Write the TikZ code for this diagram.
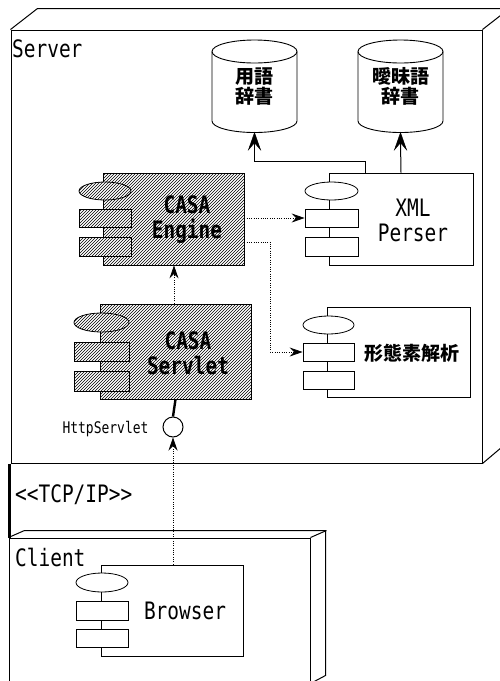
\documentclass[tikz,border=0pt]{standalone}
\usepackage{fontspec}
\usetikzlibrary{arrows.meta,patterns,shapes.geometric,calc}
\newfontfamily\lab[FakeStretch=0.81]{DejaVu Sans Mono}
\newfontfamily\jp{Noto Sans CJK JP}
\begin{document}
\begin{tikzpicture}[x=1pt,y=-1pt,
  compbox/.style={draw, line width=0.8pt, inner sep=0pt, fill=white},
  hcompbox/.style={draw, line width=0.8pt, inner sep=0pt, preaction={fill=white}, pattern=north east lines},
  cpart/.style={draw, line width=0.8pt, inner sep=0pt, fill=white, minimum width=52pt, minimum height=18pt},
  hcpart/.style={draw, line width=0.8pt, inner sep=0pt, preaction={fill=white}, pattern=north east lines, minimum width=52pt, minimum height=18pt},
  big/.style={font=\lab\fontsize{24}{25}\selectfont, align=center, inner sep=0pt},
  bigb/.style={font=\lab\bfseries\fontsize{24}{25}\selectfont, align=center, inner sep=0pt},
  small/.style={font=\lab\fontsize{16}{18}\selectfont, inner sep=0pt},
  jpt/.style={font=\jp\bfseries\fontsize{19}{20}\selectfont, align=center, inner sep=0pt},
  cyl/.style={draw, line width=0.9pt},
  frame/.style={draw, line width=1pt},
  sline/.style={line width=1pt},
  dotline/.style={line width=0.8pt, dash pattern=on 1pt off 1.3pt},
  darr/.style={dotline, -{Stealth[length=13pt,width=9pt,inset=4.5pt]}},
  uphead/.style={fill=black, draw=black, line width=0.5pt, line join=miter}
]
\useasboundingbox (0,0) rectangle (500,681);
\clip (0,0) rectangle (500,681);
\fill[white] (0,0) rectangle (500,681);

% ---------- Server node ----------
\node[frame, minimum width=471pt, minimum height=433pt, inner sep=0pt] (server) at (246.5,246.5) {};
\draw[frame] (server.north west) -- ++(27,-21) -- ++(471,0) -- ++(0,433) -- (server.south east);
\draw[frame] (server.north east) -- ++(27,-21);
\node[big, anchor=west] (serverlab) at (12,49) {Server};

% ---------- Client node ----------
\node[frame, minimum width=301pt, minimum height=145pt, inner sep=0pt] (client) at (159.5,610.5) {};
\draw[frame] (client.north west) -- ++(16,-7) -- ++(301,0) -- ++(0,145) -- (client.south east);
\draw[frame] (client.north east) -- ++(16,-7);
\node[big, anchor=west] (clientlab) at (15,557.5) {Client};

% TCP/IP link
\draw[line width=3pt] ([xshift=-1pt]server.south west) -- ([xshift=1pt]client.north west);
\node[big, anchor=west] (tcp) at (15,495) {<\kern0pt<TCP/IP>\kern0pt>};

% ---------- Databases ----------
\draw[cyl] (212,51.5) -- (212,121) arc[start angle=180, end angle=360, x radius=42.5pt, y radius=11.5pt] -- (297,51.5);
\draw[cyl] (254.5,51.5) ellipse[x radius=42.5pt, y radius=11.5pt];
\node[jpt, minimum width=85pt, minimum height=92.5pt] (db1) at (254.5,86.25) {用語\\辞書};

\draw[cyl] (358,51.5) -- (358,121) arc[start angle=180, end angle=360, x radius=42.5pt, y radius=11.5pt] -- (443,51.5);
\draw[cyl] (400.5,51.5) ellipse[x radius=42.5pt, y radius=11.5pt];
\node[jpt, minimum width=85pt, minimum height=92.5pt] (db2) at (400.5,86.25) {曖昧語\\辞書};

% ---------- CASA Engine ----------
\node[hcompbox, minimum width=141pt, minimum height=92pt] (eng) at (173.5,219) {};
\node[hcpart, ellipse] (eng-e) at (105,191) {};
\node[hcpart] (eng-r1) at (105,218) {};
\node[hcpart, minimum height=19pt] (eng-r2) at (105,246.5) {};
\node[bigb] (eng-t) at (187,220) {CASA\\Engine};

% ---------- XML Perser ----------
\node[compbox, minimum width=144pt, minimum height=92pt] (xml) at (401,219) {};
\node[cpart, ellipse, minimum width=53pt] (xml-e) at (331.5,191) {};
\node[cpart, minimum width=53pt] (xml-r1) at (331.5,218) {};
\node[cpart, minimum width=53pt, minimum height=19pt] (xml-r2) at (331.5,246.5) {};
\node[big] (xml-t) at (413,220) {XML\\Perser};

% ---------- Morphological analysis ----------
\node[compbox, minimum width=143pt, minimum height=90pt] (mor) at (398.5,352) {};
\node[cpart, ellipse, minimum width=51pt] (mor-e) at (328.5,325) {};
\node[cpart, minimum width=51pt] (mor-r1) at (328.5,352) {};
\node[cpart, minimum width=51pt] (mor-r2) at (328.5,380) {};
\node[jpt] (mor-t) at (411.5,353) {形態素解析};

% ---------- CASA Servlet ----------
\node[hcompbox, minimum width=151pt, minimum height=95pt] (srv) at (175.5,351.5) {};
\node[hcpart, ellipse, minimum width=55pt, minimum height=19pt] (srv-e) at (101.5,322.5) {};
\node[hcpart, minimum width=55pt, minimum height=19pt] (srv-r1) at (101.5,351.5) {};
\node[hcpart, minimum width=55pt, minimum height=20pt] (srv-r2) at (101.5,381) {};
\node[bigb] (srv-t) at (188,353) {CASA\\Servlet};

% ---------- Interface ----------
\node[circle, draw, line width=1pt, minimum size=20pt, inner sep=0pt, fill=white] (iface) at (173,427) {};
\node[small] (iface-l) at (105.5,429) {HttpServlet};
\draw[line width=2.4pt] (srv.south) -- (iface.north);

% ---------- Browser ----------
\node[compbox, minimum width=142pt, minimum height=91pt] (brw) at (172,610.5) {};
\node[cpart, ellipse, minimum height=19pt] (brw-e) at (102,582.5) {};
\node[cpart, minimum height=19pt] (brw-r1) at (102,610.5) {};
\node[cpart] (brw-r2) at (102,638) {};
\node[big] (brw-t) at (185,611) {Browser};

% ---------- Connectors ----------
\coordinate (bend) at ([xshift=-36pt,yshift=11pt]xml.north);
\draw[sline] ([xshift=-36pt]xml.north) -- (bend) -| ([yshift=-9pt]db1.south);
\draw[sline] (xml.north) -- ([yshift=-9pt]db2.south);
\fill[uphead, shift={(db1.south)}] (0,0) -- (-6,17) -- (0,10) -- (6,17) -- cycle;
\fill[uphead, shift={(db2.south)}] (0,0) -- (-6,17) -- (0,10) -- (6,17) -- cycle;
\draw[darr] (xml-r1.west -| eng.east) -- (xml-r1.west);
\draw[darr] ([yshift=-23pt]eng.east) -- ++(26,0) |- (mor-r1.west);
\draw[darr] ([xshift=-1.5pt]srv.north) -- ([xshift=-1.5pt]srv.north |- eng.south);
\draw[darr] (brw.north -| iface.south) -- (iface.south);
\end{tikzpicture}
\end{document}
